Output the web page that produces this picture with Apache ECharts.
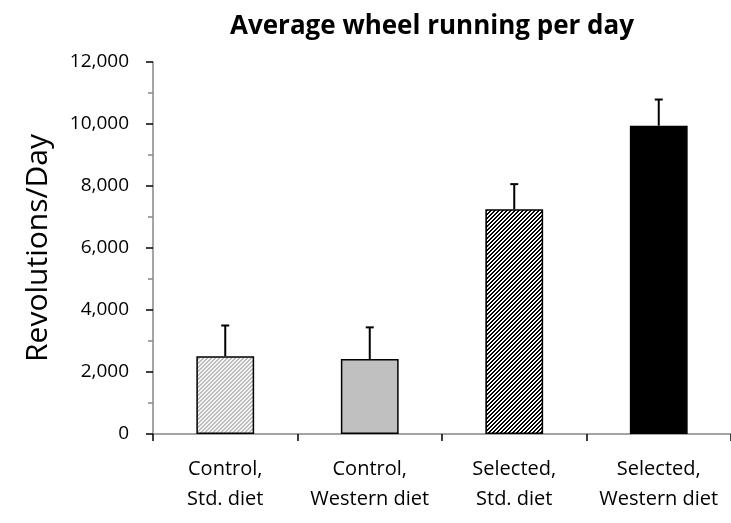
<!DOCTYPE html>
<html>
<head>
<meta charset="utf-8">
<script src="https://cdn.jsdelivr.net/npm/echarts@6/dist/echarts.min.js"></script>
<style>
  html, body { margin: 0; padding: 0; background: #fff; }
  #chart { width: 731px; height: 523px; }
</style>
</head>
<body>
<div id="chart"></div>
<script>
var categories = ['Control,\nStd. diet', 'Control,\nWestern diet', 'Selected,\nStd. diet', 'Selected,\nWestern diet'];
var means = [2510, 2420, 7250, 9945];
var upperErr = [3500, 3440, 8060, 10790];
var yTicks = [0, 2000, 4000, 6000, 8000, 10000, 12000];

// diagonal hatch tile, "/" direction
function hatch(bg, fg, period, thick) {
    var c = document.createElement('canvas');
    c.width = period * 2; c.height = period * 2;
    var ctx = c.getContext('2d');
    ctx.fillStyle = bg;
    ctx.fillRect(0, 0, c.width, c.height);
    ctx.fillStyle = fg;
    for (var x = 0; x < c.width; x++) {
        for (var y = 0; y < c.height; y++) {
            if ((x + y) % period < thick) ctx.fillRect(x, y, 1, 1);
        }
    }
    return c;
}

var fills = [
    { image: hatch('#f6f6f6', '#bcbcbc', 4, 2), repeat: 'repeat' },
    '#c0c0c0',
    { image: hatch('#ffffff', '#000000', 4, 2), repeat: 'repeat' },
    '#000000'
];

var myChart = echarts.init(document.getElementById('chart'));
var font = '"Open Sans", sans-serif';

option = {
    animation: false,
    title: {
        text: 'Average wheel running per day',
        left: 427,
        textAlign: 'center',
        top: 9,
        textStyle: { fontFamily: font, fontWeight: 'bold', fontSize: 26, color: '#000' }
    },
    grid: { left: 153, right: -2, top: 62, bottom: 89 },
    xAxis: {
        type: 'category',
        data: categories,
        axisLine: { lineStyle: { color: '#868686', width: 1.5 } },
        axisTick: { show: true, interval: 0, length: 7, lineStyle: { color: '#000', width: 1.5 } },
        axisLabel: { interval: 0, margin: 20, color: '#000', fontFamily: font, fontSize: 20, lineHeight: 30 }
    },
    yAxis: {
        type: 'value',
        min: yTicks[0],
        max: yTicks[yTicks.length - 1],
        interval: 2000,
        name: 'Revolutions/Day',
        nameLocation: 'middle',
        nameGap: 100,
        nameTextStyle: { fontFamily: font, fontSize: 30, color: '#000' },
        axisLine: { show: true, lineStyle: { color: '#868686', width: 1.5 } },
        axisTick: { show: true, length: 7, lineStyle: { color: '#000', width: 1.5 } },
        minorTick: { show: true, splitNumber: 2, length: 5, lineStyle: { color: '#868686', width: 1.5 } },
        splitLine: { show: false },
        axisLabel: {
            margin: 24, color: '#000', fontFamily: font, fontSize: 19,
            formatter: function (v) { return v.toLocaleString('en-US'); }
        }
    },
    series: [{
        type: 'bar',
        barWidth: '40%',
        data: means.map(function (v, i) {
            return { value: v, itemStyle: { color: fills[i], borderColor: '#000', borderWidth: 1.5 } };
        }),
        z: 2
    }, {
        type: 'custom',
        z: 3,
        data: means.map(function (v, i) { return [i, v, upperErr[i]]; }),
        renderItem: function (params, api) {
            var base = api.coord([api.value(0), api.value(1)]);
            var top = api.coord([api.value(0), api.value(2)]);
            var style = { stroke: '#000', lineWidth: 2 };
            return {
                type: 'group',
                children: [
                    { type: 'line', shape: { x1: top[0], y1: base[1], x2: top[0], y2: top[1] }, style: style },
                    { type: 'line', shape: { x1: top[0] - 4, y1: top[1], x2: top[0] + 4, y2: top[1] }, style: style }
                ]
            };
        }
    }]
};
myChart.setOption(option);
</script>
</body>
</html>
